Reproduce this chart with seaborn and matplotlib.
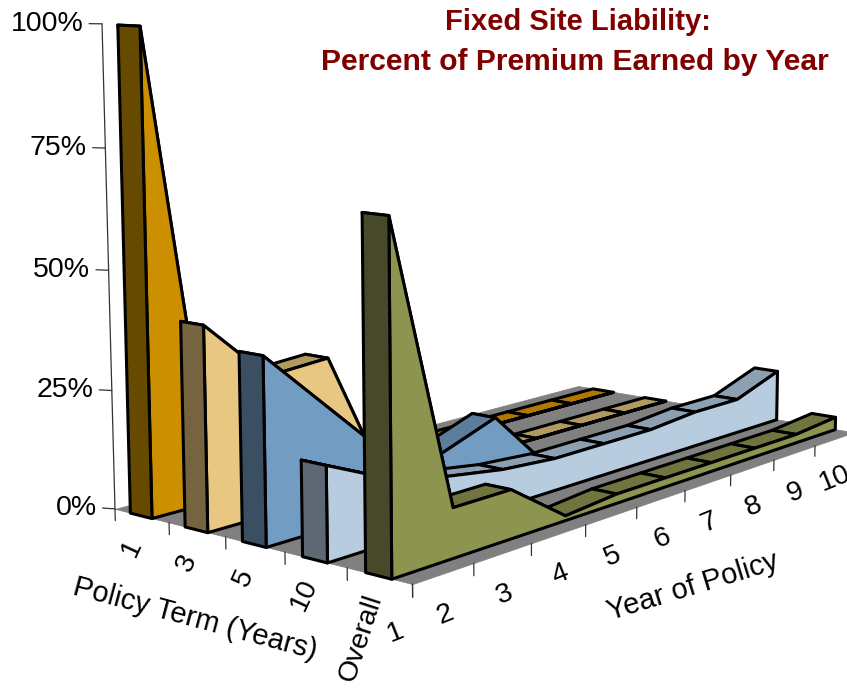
import matplotlib
matplotlib.use("Agg")
import matplotlib.pyplot as plt
import seaborn as sns
from mpl_toolkits.mplot3d import proj3d
from mpl_toolkits.mplot3d.art3d import Poly3DCollection

sns.set_theme(style="white")
plt.rcParams["font.family"] = ["Liberation Sans", "DejaVu Sans"]

# Share of premium earned (%) in each policy year, one array per policy term
years = ["1", "2", "3", "4", "5", "6", "7", "8", "9", "10"]
terms = ["1", "3", "5", "10", "Overall"]
term_1 = [100, 0, 0, 0, 0, 0, 0, 0, 0, 0]
term_3 = [42, 29, 30, 0, 0, 0, 0, 0, 0, 0]
term_5 = [38, 25, 12, 9, 13.5, 0, 0, 0, 0, 0]
term_10 = [19, 13, 10, 8, 7, 7, 7, 8, 8, 12]
overall = [68, 10, 10, 1, 2, 2, 2, 2, 2, 3]
series = [term_1, term_3, term_5, term_10, overall]
value_ticks = [0, 25, 50, 75, 100]

# Face shades per series: end cap, side wall, top surface
caps = sns.color_palette(["#654A00", "#75643F", "#3B4F63", "#5E6875", "#47492A"])
walls = sns.color_palette(["#CC8F00", "#E8C782", "#729CC2", "#B8CCE0", "#8C944F"])
tops = sns.color_palette(["#B07800", "#B09A5F", "#5B7D9B", "#8DA0B2", "#70743F"])

W, H = 847, 689
fig = plt.figure(figsize=(W / 100, H / 100), dpi=100)
S = 903
ax = fig.add_axes([46 / W, -20 / H, S / W, S / H], projection="3d")
ax.computed_zorder = False
ax.set_proj_type("persp", focal_length=0.46)
ax.view_init(elev=8.5, azim=-140.6)
n_years, n_terms = len(years), len(terms)
ax.set_xlim(0, n_years - 1)
ax.set_ylim(0, n_terms)
ax.set_zlim(0, 100)
ax.set_box_aspect((2.07, 1.09, 1.32))
ax.set_axis_off()
ax.patch.set_visible(False)

order = [0]


def face(verts, fc, ec="black", lw=2.2):
    order[0] += 1
    poly = Poly3DCollection([verts], facecolors=[fc], edgecolors=[ec], linewidths=lw)
    ax.add_collection3d(poly)
    poly.set_zorder(order[0])


def label(x, y, z, s, rotation=0, ha="center"):
    # Place upright or rotated text at a projected data position
    px, py, _ = proj3d.proj_transform(x, y, z, ax.get_proj())
    ax.text2D(px, py, s, transform=ax.transData, rotation=rotation, ha=ha, va="center",
              rotation_mode="anchor", fontsize=20.5, color="black", zorder=600)


# Floor
face([(0, 0, 0), (n_years - 1, 0, 0), (n_years - 1, n_terms, 0), (0, n_terms, 0)],
     "#808080", ec="#808080", lw=0.5)

half = 0.2
for i, vals in enumerate(series):
    yc = n_terms - 0.5 - i + 0.02
    y0, y1 = yc - half, yc + half
    # top surface runs from the far end toward the viewer
    for k in range(n_years - 2, -1, -1):
        face([(k, y0, vals[k]), (k + 1, y0, vals[k + 1]),
              (k + 1, y1, vals[k + 1]), (k, y1, vals[k])], tops[i])
    wall = [(k, y0, vals[k]) for k in range(n_years)]
    wall += [(n_years - 1, y0, 0), (0, y0, 0)]
    face(wall, walls[i])
    face([(0, y0, 0), (0, y1, 0), (0, y1, vals[0]), (0, y0, vals[0])], caps[i])

z_line = 500
ink = "#333333"
# Value axis with ticks and percent labels
ax.plot([0, 0], [n_terms, n_terms], [0, 100], color=ink, lw=0.9, zorder=z_line)
for v in value_ticks:
    ax.plot([0, -0.07], [n_terms, n_terms + 0.15], [v, v], color=ink, lw=0.9, zorder=z_line)
    label(-0.1, n_terms + 0.22, v, f"{v}%", ha="right")

# Policy term ticks along the near-left floor edge
for j in range(n_terms + 1):
    ax.plot([0, 0], [j, j], [0, -2.5], color=ink, lw=0.9, zorder=z_line)
for i, name in enumerate(terms):
    yc = n_terms - 0.5 - i
    if name == "Overall":
        label(0, yc + 0.3, -13, name, rotation=72)
    else:
        label(0, yc + 0.2, -7.5, name, rotation=65)

# Policy year ticks along the near-right floor edge
for k, name in enumerate(years):
    ax.plot([k, k], [0, 0], [0, -2.5], color=ink, lw=0.9, zorder=z_line)
    shift = 0.27 if k == 0 else 0.47
    label(k - shift, 0, -8 - 0.17 * k, name, rotation=22)

fig.text(195 / W, 1 - 619 / H, "Policy Term (Years)", rotation=-15, ha="center", va="center",
         fontsize=21, color="black", rotation_mode="anchor")
fig.text(693 / W, 1 - 587 / H, "Year of Policy", rotation=17, ha="center", va="center",
         fontsize=21, color="black", rotation_mode="anchor")

fig.text(578 / W, 1 - 22 / H, "Fixed Site Liability:", ha="center", va="center",
         fontsize=21, fontweight="bold", color="#800000")
fig.text(575 / W, 1 - 62 / H, "Percent of Premium Earned by Year", ha="center", va="center",
         fontsize=21.6, fontweight="bold", color="#800000")

fig.savefig("out.png", dpi=100)
